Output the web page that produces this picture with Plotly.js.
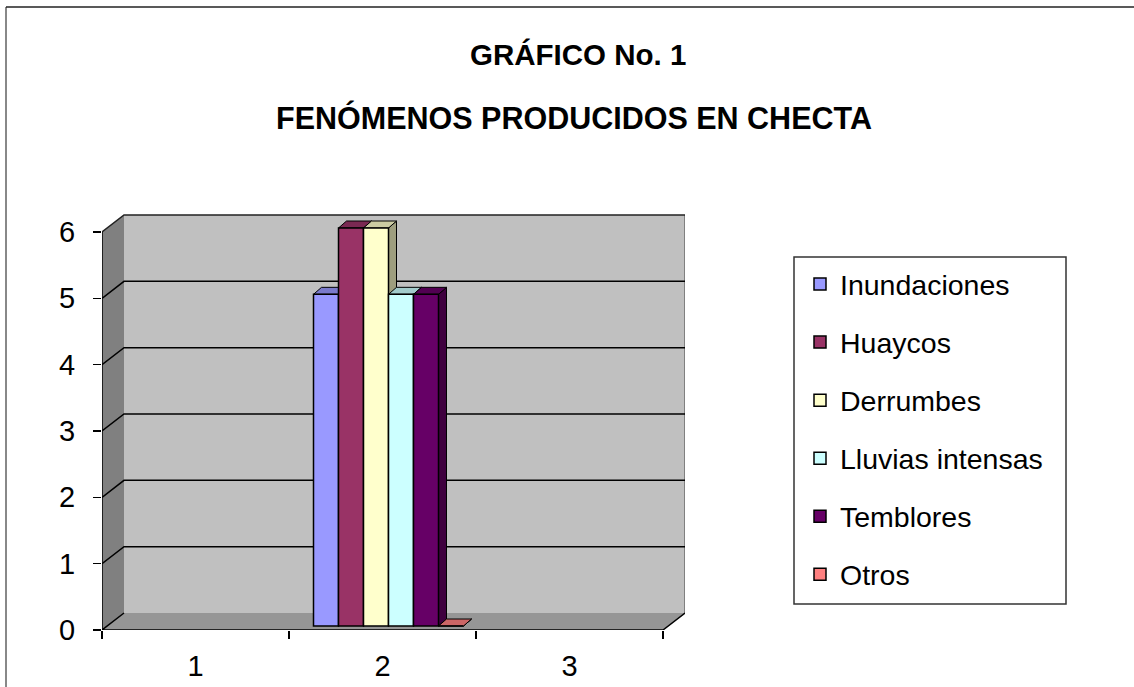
<!DOCTYPE html>
<html>
<head>
<meta charset="utf-8">
<script src="https://cdn.plot.ly/plotly-3.0.1.min.js"></script>
<style>
html,body{margin:0;padding:0;background:#fff;}
#chart{width:1134px;height:687px;}
</style>
</head>
<body>
<div id="chart"></div>
<script>
// ---- data ----
const categories = ['1', '2', '3'];
const seriesNames = ['Inundaciones', 'Huaycos', 'Derrumbes', 'Lluvias intensas', 'Temblores', 'Otros'];
const inundaciones = [null, 5, null];
const huaycos = [null, 6, null];
const derrumbes = [null, 6, null];
const lluviasIntensas = [null, 5, null];
const temblores = [null, 5, null];
const otros = [null, 0, null];
const yTickValues = [0, 1, 2, 3, 4, 5, 6];
const titleLine1 = 'GRÁFICO No. 1';
const titleLine2 = 'FENÓMENOS PRODUCIDOS EN CHECTA';

const seriesValues = [inundaciones, huaycos, derrumbes, lluviasIntensas, temblores, otros];
const seriesColors = ['#9999FF', '#993366', '#FFFFCC', '#CCFFFF', '#660066', '#FF8080'];

// ---- geometry (layout) ----
const FONT = 'Liberation Sans, Arial, Helvetica, sans-serif';
const plotL = 102, plotR = 685, plotT = 213, plotB = 630;
const plotW = plotR - plotL, plotH = plotB - plotT;
const unitY = 398 / 6;          // px per value unit on front plane
const unitX = 561 / 3;          // px per category on front plane
const yMaxR = plotH / unitY;
const xMaxR = -0.5 + plotW / unitX;
const dX = 22 / unitX, dY = 17 / unitY;     // wall depth
const shiftX = 6 / unitX, shiftY = 4 / unitY; // bars sit inside depth
const bX = 8 / unitX, bY = 7 / unitY;       // bar depth
const bargap = 1 - 150 / 187;
const barW = (1 - bargap) / seriesNames.length;
const yTop = yTickValues[yTickValues.length - 1];
const nCat = categories.length;
const xLo = -0.5, xHi = nCat - 0.5;

function pxX(p) { return (p - plotL) / plotW; }
function pxY(p) { return (plotB - p) / plotH; }
function shade(hex, f) {
  const n = parseInt(hex.slice(1), 16);
  const r = Math.round(((n >> 16) & 255) * f), g = Math.round(((n >> 8) & 255) * f), b = Math.round((n & 255) * f);
  return 'rgb(' + r + ',' + g + ',' + b + ')';
}

const shapes = [];
// floor
shapes.push({type: 'path', xref: 'x', yref: 'y', layer: 'below',
  path: `M${xLo},0 L${xHi},0 L${xHi + dX},${dY} L${xLo + dX},${dY} Z`,
  fillcolor: '#969696', line: {width: 0}});
// back wall
shapes.push({type: 'path', xref: 'x', yref: 'y', layer: 'below',
  path: `M${xLo + dX},${dY} L${xHi + dX},${dY} L${xHi + dX},${yTop + dY} L${xLo + dX},${yTop + dY} Z`,
  fillcolor: '#C0C0C0', line: {width: 0}});
// left wall
shapes.push({type: 'path', xref: 'x', yref: 'y', layer: 'below',
  path: `M${xLo},0 L${xLo},${yTop} L${xLo + dX},${yTop + dY} L${xLo + dX},${dY} Z`,
  fillcolor: '#808080', line: {width: 0}});
// back wall right edge
shapes.push({type: 'path', xref: 'x', yref: 'y', layer: 'below',
  path: `M${xHi + dX},${dY} L${xHi + dX},${yTop + dY}`,
  line: {color: '#808080', width: 2}});
// gridlines
yTickValues.forEach(v => {
  if (v === 0) return;
  shapes.push({type: 'path', xref: 'x', yref: 'y', layer: 'below',
    path: `M${xLo},${v} L${xLo + dX},${v + dY} L${xHi + dX},${v + dY}`,
    line: {color: v === yTop ? '#222222' : '#000000', width: 1.5}});
});
// axis lines
shapes.push({type: 'path', xref: 'x', yref: 'y', layer: 'below',
  path: `M${xLo + dX},${dY} L${xLo},0 L${xHi},0 L${xHi + dX},${dY}`,
  line: {color: '#000000', width: 1.5}});
shapes.push({type: 'path', xref: 'x', yref: 'y', layer: 'below',
  path: `M${xLo},0 L${xLo},${yTop}`,
  line: {color: '#000000', width: 1.5}});

// 3D faces of bars (computed from the data, in the bar axes)
seriesValues.forEach((vals, i) => {
  vals.forEach((v, c) => {
    if (v === null) return;
    const left = c - (1 - bargap) / 2 + i * barW;
    const right = left + barW;
    shapes.push({type: 'path', xref: 'x2', yref: 'y2', layer: 'below',
      path: `M${right},0 L${right + bX},${bY} L${right + bX},${v + bY} L${right},${v} Z`,
      fillcolor: shade(seriesColors[i], 0.62), line: {color: '#000', width: 1}});
    shapes.push({type: 'path', xref: 'x2', yref: 'y2', layer: 'below',
      path: `M${left},${v} L${left + bX},${v + bY} L${right + bX},${v + bY} L${right},${v} Z`,
      fillcolor: shade(seriesColors[i], 0.8), line: {color: '#000', width: 1}});
  });
});

// legend border
shapes.push({type: 'rect', xref: 'paper', yref: 'paper', layer: 'above',
  x0: pxX(794), x1: pxX(1066), y0: pxY(604), y1: pxY(257),
  line: {color: '#333333', width: 1.5}, fillcolor: 'rgba(0,0,0,0)'});
// outer frame (top and left visible)
shapes.push({type: 'path', xref: 'paper', yref: 'paper', layer: 'above',
  path: `M${pxX(6)},${pxY(700)} L${pxX(6)},${pxY(7)}`,
  line: {color: '#888888', width: 2}});
shapes.push({type: 'path', xref: 'paper', yref: 'paper', layer: 'above',
  path: `M${pxX(6)},${pxY(7)} L${pxX(1140)},${pxY(7)}`,
  line: {color: '#222222', width: 1.5}});

const traces = seriesNames.map((name, i) => ({
  type: 'bar', name: name, x: categories, y: seriesValues[i],
  xaxis: 'x2', yaxis: 'y2', legendgroup: 'g' + i,
  marker: {color: seriesColors[i], line: {color: '#000000', width: 1.5}},
  hoverinfo: 'skip'
}));

const layout = {
  width: 1134, height: 687,
  margin: {l: plotL, r: 1134 - plotR, t: plotT, b: 687 - plotB, pad: 0},
  paper_bgcolor: '#ffffff', plot_bgcolor: '#ffffff',
  font: {family: FONT, color: '#000000', size: 28},
  barmode: 'group', bargap: bargap, bargroupgap: 0,
  showlegend: true,
  legend: {x: pxX(800), y: pxY(259), xanchor: 'left', yanchor: 'top',
    bgcolor: 'rgba(0,0,0,0)', borderwidth: 0, traceorder: 'grouped', tracegroupgap: 18,
    font: {family: FONT, size: 28.5, color: '#000'}},
  xaxis: {type: 'category', categoryarray: categories, range: [-0.5, xMaxR],
    tickson: 'boundaries', ticks: 'outside', ticklen: 8, tickcolor: '#000', tickwidth: 1.5,
    showline: false, showgrid: false, zeroline: false, ticklabelstandoff: 16,
    tickfont: {family: FONT, size: 29, color: '#000'}, fixedrange: true},
  yaxis: {range: [0, yMaxR], tickvals: yTickValues, ticks: 'outside', ticklen: 8,
    tickcolor: '#000', tickwidth: 1.5, showline: false, showgrid: false, zeroline: false,
    ticklabelstandoff: 12, tickfont: {family: FONT, size: 29, color: '#000'}, fixedrange: true},
  xaxis2: {type: 'category', categoryarray: categories, overlaying: 'x',
    range: [-0.5 - shiftX, xMaxR - shiftX], visible: false, fixedrange: true},
  yaxis2: {overlaying: 'y', range: [-shiftY, yMaxR - shiftY], visible: false, fixedrange: true},
  shapes: shapes,
  annotations: [
    {text: '<b>' + titleLine1 + '</b>', xref: 'paper', yref: 'paper', x: pxX(578), y: pxY(55),
      xanchor: 'center', yanchor: 'middle', showarrow: false,
      font: {family: FONT, size: 29.5, color: '#000'}},
    {text: '<b>' + titleLine2 + '</b>', xref: 'paper', yref: 'paper', x: pxX(574), y: pxY(117),
      xanchor: 'center', yanchor: 'middle', showarrow: false,
      font: {family: FONT, size: 30.5, color: '#000'}}
  ],
  hovermode: false
};

Plotly.newPlot('chart', traces, layout, {displayModeBar: false, staticPlot: true});
</script>
</body>
</html>
